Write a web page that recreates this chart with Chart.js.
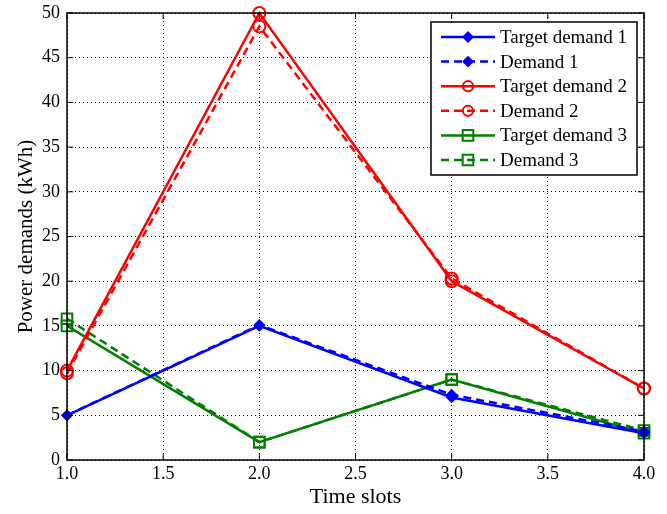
<!DOCTYPE html>
<html>
<head>
<meta charset="utf-8">
<script src="https://cdn.jsdelivr.net/npm/chart.js@4/dist/chart.umd.min.js"></script>
<style>
  html, body { margin: 0; padding: 0; background: #fff; }
  #wrap { width: 667px; height: 514px; }
</style>
</head>
<body>
<div id="wrap"><canvas id="myChart"></canvas></div>
<script>
// time slots and series values
const timeSlots = [1, 2, 3, 4];
const target1 = [5, 15, 7, 3];
const demand1 = [5, 15.1, 7.3, 3.2];
const target2 = [10, 50, 20, 8];
const demand2 = [9.7, 48.5, 20.3, 8];
const target3 = [15, 2, 9, 3];
const demand3 = [15.8, 2, 9, 3.3];
const labels = ["Target demand 1", "Demand 1", "Target demand 2", "Demand 2", "Target demand 3", "Demand 3"];

const BLUE = 'rgb(0,0,255)', RED = 'rgb(255,0,0)', GREEN = 'rgb(0,128,0)';
const FONT = '"Liberation Serif", "Times New Roman", serif';

function pts(vals){
    return vals.map((v, i) => ({x: timeSlots[i], y: v}));
}

function makeSet(label, vals, color, dashed, style){
    let radius = 6;
    if(style == 'rectRot') radius = 4.5;
    if(style == 'rect') radius = 7.5;
    let ds = {
        label: label,
        data: pts(vals),
        borderColor: color,
        backgroundColor: color,
        borderWidth: 2.5,
        borderDash: dashed ? [8, 5] : [],
        pointStyle: style,
        pointRadius: radius,
        pointBorderWidth: 2,
        pointBorderColor: color,
        pointBackgroundColor: style == 'rectRot' ? color : 'transparent',
        tension: 0,
        clip: false,
    };
    return ds;
}

const datasets = [
    makeSet(labels[0], target1, BLUE, false, 'rectRot'),
    makeSet(labels[1], demand1, BLUE, true, 'rectRot'),
    makeSet(labels[2], target2, RED, false, 'circle'),
    makeSet(labels[3], demand2, RED, true, 'circle'),
    makeSet(labels[4], target3, GREEN, false, 'rect'),
    makeSet(labels[5], demand3, GREEN, true, 'rect'),
];

function drawMarker(ctx, style, x, y, r, color, filled){
    ctx.save();
    ctx.strokeStyle = color;
    ctx.fillStyle = color;
    ctx.lineWidth = 2;
    ctx.setLineDash([]);
    ctx.beginPath();
    if(style == 'rectRot'){
        ctx.moveTo(x, y - r); ctx.lineTo(x + r, y); ctx.lineTo(x, y + r); ctx.lineTo(x - r, y); ctx.closePath();
    } else if(style == 'circle'){
        ctx.arc(x, y, r * 0.85, 0, Math.PI * 2);
    } else {
        let s = r / Math.SQRT2;
        ctx.rect(x - s, y - s, 2 * s, 2 * s);
    }
    if(filled) ctx.fill();
    ctx.stroke();
    ctx.restore();
}

// frame, inward ticks and legend
const framePlugin = {
    id: 'framePlugin',
    afterDraw(chart){
        const { ctx, chartArea: {left, right, top, bottom}, scales: {x, y} } = chart;
        ctx.save();
        ctx.strokeStyle = '#000';
        ctx.lineWidth = 1.5;
        ctx.setLineDash([]);
        ctx.strokeRect(left, top, right - left, bottom - top);
        ctx.lineWidth = 1;
        ctx.beginPath();
        x.ticks.forEach(t => {
            let px = x.getPixelForValue(t.value);
            ctx.moveTo(px, bottom); ctx.lineTo(px, bottom - 6);
            ctx.moveTo(px, top); ctx.lineTo(px, top + 6);
        });
        y.ticks.forEach(t => {
            let py = y.getPixelForValue(t.value);
            ctx.moveTo(left, py); ctx.lineTo(left + 6, py);
            ctx.moveTo(right, py); ctx.lineTo(right - 6, py);
        });
        ctx.stroke();

        // legend box
        const bx = 431, by = 22, bw = 206, bh = 153;
        ctx.fillStyle = '#fff';
        ctx.fillRect(bx, by, bw, bh);
        ctx.lineWidth = 1.5;
        ctx.strokeRect(bx, by, bw, bh);
        ctx.font = '19px ' + FONT;
        ctx.textBaseline = 'middle';
        chart.data.datasets.forEach((ds, i) => {
            let ly = 37 + i * 24.6;
            ctx.save();
            ctx.strokeStyle = ds.borderColor;
            ctx.lineWidth = 2.5;
            ctx.setLineDash(ds.borderDash);
            ctx.beginPath();
            ctx.moveTo(441, ly); ctx.lineTo(495, ly);
            ctx.stroke();
            ctx.restore();
            drawMarker(ctx, ds.pointStyle, 468, ly, ds.pointRadius, ds.borderColor, ds.pointStyle == 'rectRot');
            ctx.fillStyle = '#000';
            ctx.fillText(ds.label, 500, ly + 1);
        });
        ctx.restore();
    }
};

const config = {
    type: 'line',
    data: { datasets: datasets },
    options: {
        responsive: true,
        maintainAspectRatio: false,
        animation: false,
        layout: { padding: { left: 0, right: 23, top: 13, bottom: 0 } },
        plugins: { legend: { display: false }, tooltip: { enabled: false } },
        scales: {
            x: {
                type: 'linear',
                min: 1, max: 4,
                ticks: {
                    stepSize: 0.5,
                    color: '#000',
                    font: { family: FONT, size: 18 },
                    padding: 3,
                    maxRotation: 0,
                    callback: v => v.toFixed(1),
                },
                grid: { color: '#000', lineWidth: 1, drawTicks: false },
                border: { display: false, dash: [1, 3] },
                title: { display: true, text: 'Time slots', color: '#000', font: { family: FONT, size: 22 }, padding: { top: 0, bottom: 4 } },
                afterFit(scale){ scale.height = 54; scale.paddingLeft = 0; scale.paddingRight = 0; },
            },
            y: {
                min: 0, max: 50,
                ticks: {
                    stepSize: 5,
                    color: '#000',
                    font: { family: FONT, size: 18 },
                    padding: 7,
                },
                grid: { color: '#000', lineWidth: 1, drawTicks: false },
                border: { display: false, dash: [1, 3] },
                title: { display: true, text: 'Power demands (kWh)', color: '#000', font: { family: FONT, size: 21 }, padding: { top: 14, bottom: 0 } },
                afterFit(scale){ scale.width = 67; scale.paddingTop = 0; scale.paddingBottom = 0; },
            }
        }
    },
    plugins: [framePlugin],
};

const chart = new Chart(document.getElementById('myChart'), config);
</script>
</body>
</html>
